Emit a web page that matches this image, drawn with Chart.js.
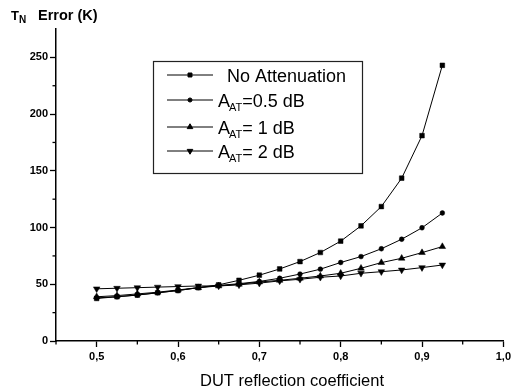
<!DOCTYPE html>
<html>
<head>
<meta charset="utf-8">
<script src="https://cdn.jsdelivr.net/npm/chart.js@4/dist/chart.umd.min.js"></script>
<style>
html,body{margin:0;padding:0;background:#fff;}
#wrap{width:514px;height:391px;position:relative;}
</style>
</head>
<body>
<div id="wrap"><canvas id="c" width="514" height="391"></canvas></div>
<script>
const reflection = [0.5,0.525,0.55,0.575,0.6,0.625,0.65,0.675,0.7,0.725,0.75,0.775,0.8,0.825,0.85,0.875,0.9,0.925];
const noAttenuation = [37.5,39,40.5,42.5,44.5,47,49.5,53.5,58,63.5,70,78,88,101.5,118.5,143.5,181,243];
const att05dB = [38,39,40.5,42.5,44.5,47,49,50.5,52.5,55.3,59,63.3,69.2,74.4,81.3,89.7,99.8,112.8];
const att1dB = [39,40,41.5,43,45,47,48.5,50,52,53.5,55.3,57.3,59.7,64.1,69.1,72.9,77.9,83.2];
const att2dB = [46,46.5,47,47.5,48,48.5,48.5,49.5,51,53,54.4,56.2,57.3,59.7,61.1,62.6,64.7,67];
const xTicks = [0.5,0.6,0.7,0.8,0.9,1.0];
const xMinorTicks = [0.45,0.55,0.65,0.75,0.85,0.95];
const yTicks = [0,50,100,150,200,250];
const yMinorTicks = [25,75,125,175,225];
const seriesNames = ['No Attenuation','0.5 dB','1 dB','2 dB'];

const pts = arr => reflection.map((x,i)=>({x:x,y:arr[i]}));
const styles = [
  {pointStyle:'rect', radius:3.3, rotation:0},
  {pointStyle:'circle', radius:2.4, rotation:0},
  {pointStyle:'triangle', radius:3.8, rotation:0},
  {pointStyle:'triangle', radius:3.8, rotation:180}
];
const values = [noAttenuation, att05dB, att1dB, att2dB];
const datasets = values.map((v,i)=>({
  label: seriesNames[i],
  data: pts(v),
  borderColor:'#000',
  backgroundColor:'#000',
  borderWidth:1,
  pointStyle: styles[i].pointStyle,
  pointRadius: styles[i].radius,
  pointRotation: styles[i].rotation,
  pointBorderWidth:0.5,
  pointBackgroundColor:'#000',
  pointBorderColor:'#000',
  tension:0
}));

const FONT = '"Liberation Sans", Arial, sans-serif';

const extras = {
  id:'extras',
  afterDraw(chart){
    const ctx = chart.ctx;
    const xs = chart.scales.x, ys = chart.scales.y;
    ctx.save();
    // minor ticks
    ctx.strokeStyle='#000'; ctx.lineWidth=1.3;
    xMinorTicks.forEach(v=>{
      const px = xs.getPixelForValue(v);
      ctx.beginPath(); ctx.moveTo(px, xs.top); ctx.lineTo(px, xs.top+3.5); ctx.stroke();
    });
    yMinorTicks.forEach(v=>{
      const py = ys.getPixelForValue(v);
      ctx.beginPath(); ctx.moveTo(ys.right, py); ctx.lineTo(ys.right-3.5, py); ctx.stroke();
    });
    ctx.fillStyle='#000';
    // y title
    ctx.textBaseline='alphabetic'; ctx.textAlign='left';
    ctx.font='bold 13px '+FONT;
    ctx.fillText('T', 11, 20);
    ctx.font='bold 10px '+FONT;
    ctx.fillText('N', 19, 23);
    ctx.font='bold 14.5px '+FONT;
    ctx.fillText('Error (K)', 38, 20);
    // x title
    ctx.font='16.5px '+FONT;
    ctx.textAlign='center';
    ctx.fillText('DUT reflection coefficient', 292, 386);
    // legend box
    ctx.strokeStyle='#222'; ctx.lineWidth=1.2;
    ctx.strokeRect(153.5, 61.5, 209, 112);
    const rows = [75, 100, 127, 151];
    rows.forEach((ry,i)=>{
      ctx.strokeStyle='#000'; ctx.lineWidth=1;
      ctx.beginPath(); ctx.moveTo(167, ry); ctx.lineTo(213, ry); ctx.stroke();
      Chart.helpers.drawPoint(ctx, {pointStyle:styles[i].pointStyle, rotation:styles[i].rotation, radius:styles[i].radius*0.85, borderWidth:0.5}, 190, ry);
      ctx.textAlign='left'; ctx.textBaseline='alphabetic';
      if(i===0){
        ctx.font='18px '+FONT;
        ctx.fillText(seriesNames[0], 227, ry+6.5);
      } else {
        ctx.font='18px '+FONT;
        ctx.fillText('A', 218, ry+6.5);
        const wA = ctx.measureText('A').width;
        ctx.font='11px '+FONT;
        ctx.fillText('AT', 218+wA-1, ry+11);
        const wAT = ctx.measureText('AT').width;
        ctx.font='18px '+FONT;
        const rest = i===1 ? '=' + seriesNames[i] : '= ' + seriesNames[i];
        ctx.fillText(rest, 218+wA-1+wAT, ry+6.5);
      }
    });
    ctx.restore();
  }
};

new Chart(document.getElementById('c'), {
  type:'line',
  data:{datasets:datasets},
  options:{
    responsive:false,
    animation:false,
    layout:{padding:{left:0,right:7,top:29,bottom:0}},
    plugins:{legend:{display:false}, tooltip:{enabled:false}},
    scales:{
      x:{
        type:'linear', min:0.45, max:1.0,
        afterFit(s){ s.height = 50; },
        afterBuildTicks(s){ s.ticks = xTicks.map(v=>({value:v})); },
        border:{display:true,color:'#000',width:1.5},
        grid:{display:true,drawOnChartArea:false,drawTicks:true,tickLength:6,tickColor:'#000',tickWidth:1.3},
        ticks:{color:'#000',font:{family:FONT,size:11,weight:'bold'},padding:3,maxRotation:0,
          callback:v=>Number(v).toFixed(1).replace('.',',')}
      },
      y:{
        type:'linear', min:0, max:275,
        afterFit(s){ s.width = 56; },
        afterBuildTicks(s){ s.ticks = yTicks.map(v=>({value:v})); },
        border:{display:true,color:'#000',width:1.5},
        grid:{display:true,drawOnChartArea:false,drawTicks:true,tickLength:6,tickColor:'#000',tickWidth:1.3},
        ticks:{color:'#000',font:{family:FONT,size:11,weight:'bold'},padding:2,
          callback:v=>String(v)}
      }
    }
  },
  plugins:[extras]
});
</script>
</body>
</html>
